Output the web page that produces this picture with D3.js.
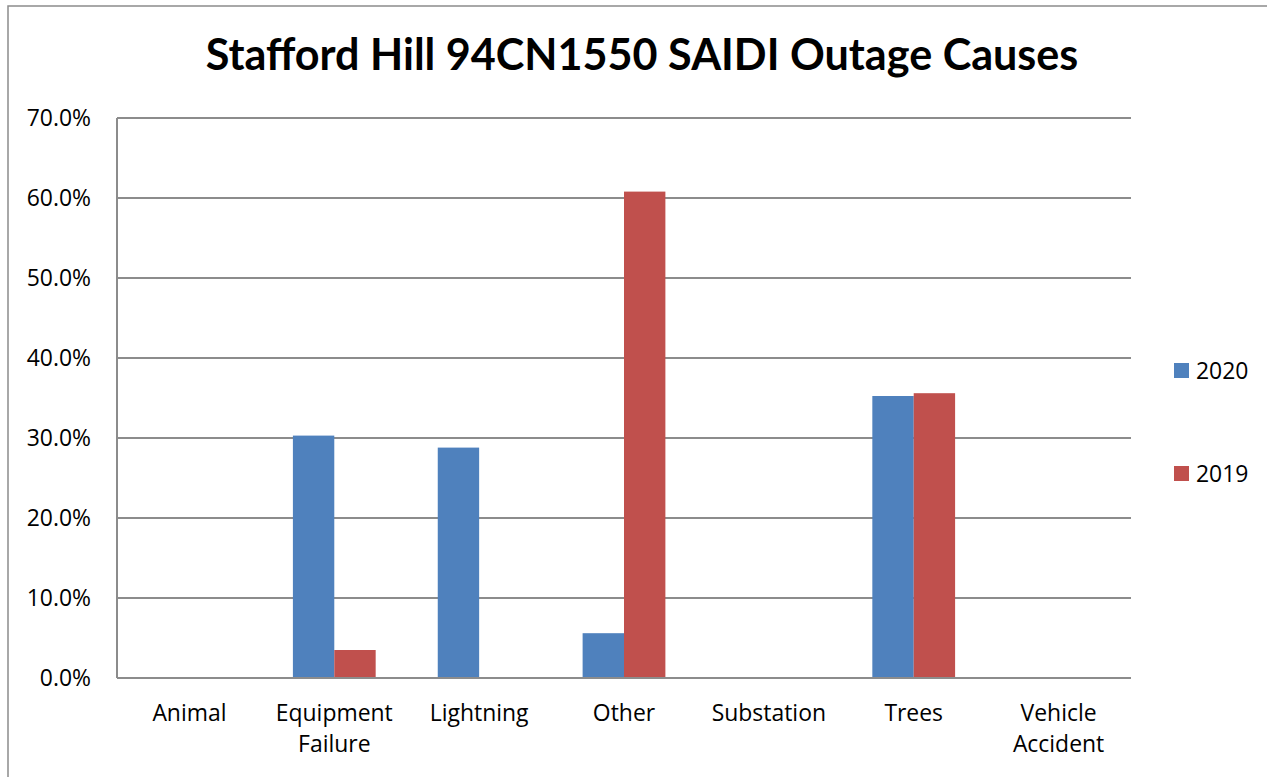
<!DOCTYPE html>
<html><head><meta charset="utf-8">
<script src="https://cdn.jsdelivr.net/npm/d3@7"></script>
<style>body{margin:0;background:#fff}svg{display:block}</style>
</head><body>
<svg id="c" width="1267" height="777"></svg>
<script>
const categories = [["Animal"],["Equipment","Failure"],["Lightning"],["Other"],["Substation"],["Trees"],["Vehicle","Accident"]];
const seriesNames = ["2020","2019"];
const values2020 = [0, 30.3, 28.8, 5.6, 0, 35.25, 0];
const values2019 = [0, 3.5, 0, 60.8, 0, 35.6, 0];
const yTicks = [0,10,20,30,40,50,60,70];
const colors = ["#4F81BD","#C0504D"];
const titleText = "Stafford Hill 94CN1550 SAIDI Outage Causes";

const svg = d3.select("#c");
const font = "'Open Sans', Lato, sans-serif";
const tfont = "Lato, 'Open Sans', sans-serif";
svg.append("rect").attr("x",8).attr("y",6).attr("width",1267).attr("height",800)
  .attr("fill","#fff").attr("stroke","#8c8c8c").attr("stroke-width",1.5);

// fit label font size so "Equipment" ~117px wide
const probe = svg.append("text").attr("font-family",font).attr("font-size",20).text("Equipment");
const fs = 20*117/probe.node().getComputedTextLength();
probe.remove();

const L=117, R=1131, T=118, B=678;
const x = d3.scaleBand().domain(d3.range(categories.length)).range([L,R]);
const y = d3.scaleLinear().domain([0,70]).range([B,T]);
const bw = x.bandwidth()/3.5;

svg.append("g").selectAll("line").data(yTicks).join("line")
  .attr("x1",L).attr("x2",R).attr("y1",d=>y(d)).attr("y2",d=>y(d))
  .attr("stroke","#8c8c8c").attr("stroke-width",2);
svg.append("line").attr("x1",L).attr("x2",L).attr("y1",T).attr("y2",B).attr("stroke","#8c8c8c").attr("stroke-width",2);

const data = [values2020, values2019];
data.forEach((vals,si)=>{
  svg.append("g").selectAll("rect").data(vals).join("rect")
    .attr("x",(d,i)=>x(i)+x.bandwidth()/2 - bw + si*bw)
    .attr("width",bw)
    .attr("y",d=>y(d)).attr("height",d=>B-y(d))
    .attr("fill",colors[si]);
});
svg.append("line").attr("x1",L).attr("x2",R).attr("y1",B).attr("y2",B).attr("stroke","#8c8c8c").attr("stroke-width",2);

svg.append("g").selectAll("text").data(yTicks).join("text")
  .attr("x",91).attr("y",d=>y(d)+7.5).attr("text-anchor","end")
  .attr("font-family",font).attr("font-size",fs).attr("fill","#000")
  .text(d=>d.toFixed(1)+"%");

const xl = svg.append("g").selectAll("text").data(categories).join("text")
  .attr("x",(d,i)=>x(i)+x.bandwidth()/2).attr("y",721).attr("text-anchor","middle")
  .attr("font-family",font).attr("font-size",fs).attr("fill","#000");
xl.selectAll("tspan").data(d=>d).join("tspan")
  .attr("x",function(){return this.parentNode.getAttribute("x");})
  .attr("dy",(d,i)=>i?31:0).text(d=>d);

const t = svg.append("text").attr("x",642).attr("y",70).attr("text-anchor","middle")
  .attr("font-family",tfont).attr("font-weight","bold").attr("font-size",36).attr("fill","#000").text(titleText);
const w = t.node().getComputedTextLength();
t.attr("font-size",36*873/w);

const lg = svg.append("g").selectAll("g").data(seriesNames).join("g")
  .attr("transform",(d,i)=>`translate(1174,${363+i*103})`);
lg.append("rect").attr("width",15).attr("height",15).attr("fill",(d,i)=>colors[i]);
lg.append("text").attr("x",22).attr("y",15.5).attr("font-family",font).attr("font-size",fs).attr("fill","#000").text(d=>d);
</script>
</body></html>
